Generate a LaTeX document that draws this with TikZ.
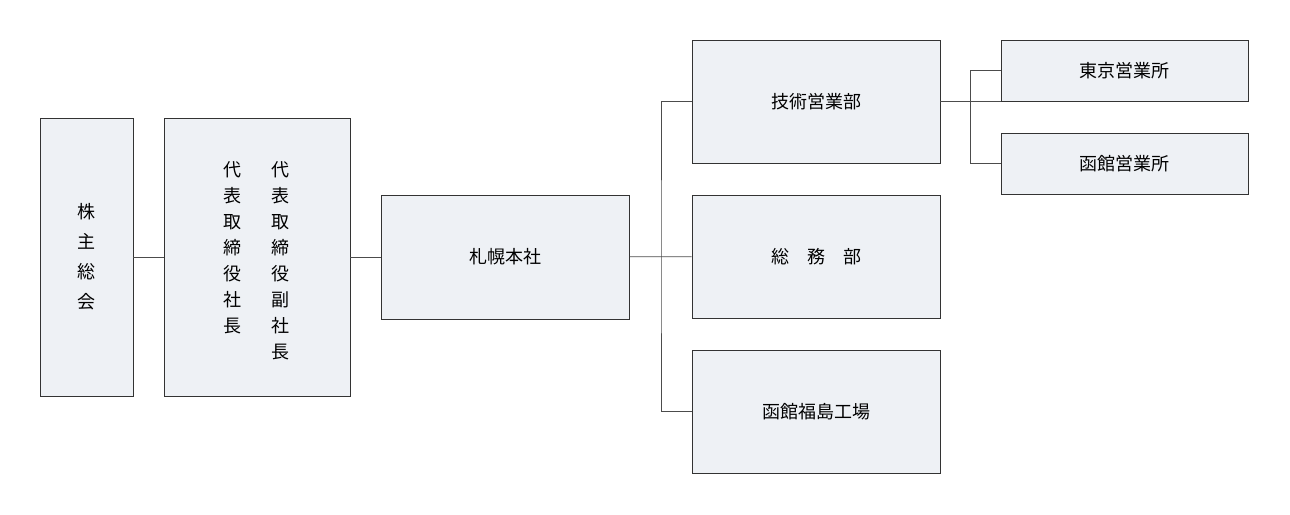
\documentclass[tikz,border=0pt]{standalone}
\usepackage{fontspec}
\setmainfont{Noto Sans CJK JP}
\definecolor{boxfill}{HTML}{EEF1F5}
\tikzset{orgbox/.style={draw=black!80,fill=boxfill,line width=0.8pt,inner sep=0pt,font=\fontsize{18}{22}\selectfont},
  tallbox/.style={orgbox,align=center,minimum height=278pt},
  wide/.style={orgbox,minimum width=248pt,minimum height=123pt},
  small/.style={orgbox,minimum width=247pt,minimum height=61pt},
  link/.style={draw=black!70,line width=0.8pt}}
\begin{document}
\begin{tikzpicture}[x=1pt,y=-1pt]
\useasboundingbox (0,0) rectangle (1290,514);
% boxes
\node[tallbox,minimum width=93pt,font=\fontsize{18}{30}\selectfont] (kabu) at (86.5,257) {株\\主\\総\\会};
\node[tallbox,minimum width=186pt] (dai) at (257,257) {};
\node[font=\fontsize{18}{26}\selectfont,align=center,anchor=north] (fuku) at (280,158) {代\\表\\取\\締\\役\\副\\社\\長};
\node[font=\fontsize{18}{26}\selectfont,align=center,anchor=north] (shacho) at (232,158) {代\\表\\取\\締\\役\\社\\長};
\node[wide,minimum height=124pt] (honsha) at (505.5,257) {札幌本社};
\node[wide] (gijutsu) at (816,101.5) {技術営業部};
\node[wide] (somu) at (816,256.5) {総\quad 務\quad 部};
\node[wide] (kojo) at (816,411.5) {函館福島工場};
\node[small] (tokyo) at (1124.5,70.5) {東京営業所};
\node[small] (hakodate) at (1124.5,163.5) {函館営業所};
% connectors
\coordinate (bus) at (661,257);
\coordinate (bus2) at (970,101);
\draw[link] (kabu) -- (dai);
\draw[link] (dai) -- (honsha);
\draw[link] (honsha) -- (somu);
\draw[link] (gijutsu.west) -| (bus) |- (kojo.west);
\draw[link] (gijutsu.east) -- (gijutsu.east -| tokyo.west);
\draw[link] (tokyo.west) -| (bus2) |- (hakodate.west);
\end{tikzpicture}
\end{document}
